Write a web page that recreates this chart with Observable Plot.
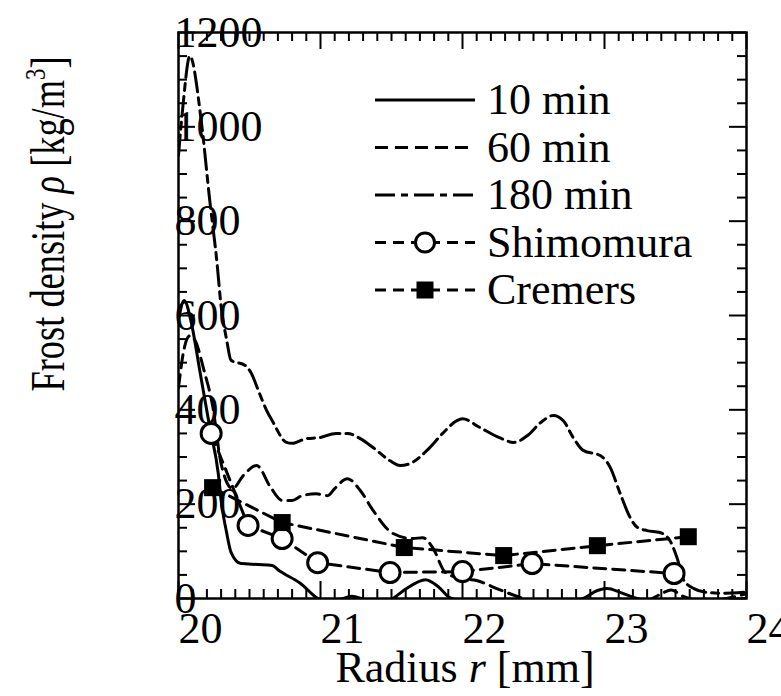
<!DOCTYPE html>
<html><head><meta charset="utf-8">
<script src="https://cdn.jsdelivr.net/npm/d3@7"></script>
<script src="https://cdn.jsdelivr.net/npm/@observablehq/plot@0.6"></script>
<style>
body{margin:0;background:#fff;}
#chart{position:relative;width:781px;height:696px;}
</style></head><body><div id="chart"></div>
<script>
// ---- data ----
const r10 = [20.0, 20.04, 20.09, 20.15, 20.22, 20.28, 20.30, 20.34, 20.37, 20.44, 20.56, 20.66, 20.71, 20.85, 21.02, 21.12, 21.22, 21.32, 21.45, 21.51, 21.6, 21.74, 21.83, 21.91, 22.1, 22.4, 22.7, 22.85, 22.95, 23.02, 23.11, 23.23, 23.4, 23.7, 24.0];
const rho10 = [590, 632, 585, 483, 363, 265, 208, 138, 98, 74, 72, 70, 59, 34, -4, -3, 5, -3, -8, 0, 20, 40, 25, 2, -10, -15, -8, 0, 17, 21, 13, 0, -12, -8, 0];

const r60 = [20.0, 20.04, 20.08, 20.12, 20.18, 20.24, 20.30, 20.38, 20.46, 20.55, 20.65, 20.73, 20.80, 20.87, 20.97, 21.05, 21.10, 21.19, 21.28, 21.37, 21.51, 21.65, 21.72, 21.79, 21.88, 22.0, 22.1, 22.25, 22.43, 22.7, 23.0, 23.3, 23.4, 23.47, 23.55, 23.7, 24.0];
const rho60 = [447, 530, 557, 545, 483, 409, 286, 233, 262, 282, 235, 208, 208, 218, 222, 218, 233, 254, 229, 187, 138, 127, 129, 108, 55, 42, 38, 20, 0, -15, -15, -5, 10, 18, 5, -5, 10];

const r180 = [20.0, 20.03, 20.08, 20.16, 20.22, 20.27, 20.30, 20.34, 20.37, 20.47, 20.51, 20.57, 20.62, 20.66, 20.76, 20.80, 20.90, 20.99, 21.11, 21.19, 21.28, 21.37, 21.49, 21.56, 21.63, 21.75, 21.86, 21.96, 22.00, 22.12, 22.26, 22.36, 22.46, 22.55, 22.64, 22.71, 22.78, 22.85, 22.97, 23.04, 23.11, 23.18, 23.23, 23.30, 23.39, 23.46, 23.51, 23.56, 23.63, 23.72, 23.84, 23.98];
const rho180 = [940, 1040, 1150, 1013, 844, 715, 620, 547, 505, 494, 479, 435, 399, 377, 331, 329, 339, 341, 350, 350, 339, 320, 292, 282, 286, 314, 350, 377, 381, 363, 341, 331, 346, 373, 388, 377, 341, 314, 303, 278, 223, 172, 151, 144, 140, 123, 87, 38, 21, 13, 11, 13];

const rShimomura = [20.23, 20.49, 20.73, 20.98, 21.49, 22.0, 22.49, 23.49];
const rhoShimomura = [350, 155, 127, 76, 55, 57, 74, 53];

const rCremers = [20.24, 20.73, 21.59, 22.29, 22.95, 23.59];
const rhoCremers = [235, 161, 108, 91, 112, 131];

const seriesNames = ["10 min", "60 min", "180 min", "Shimomura", "Cremers"];
const xTickLabels = [20, 21, 22, 23, 24];
const yTickLabels = [0, 200, 400, 600, 800, 1000, 1200];

// ---- layout ----
const W = 781, H = 696, ML = 178, MR = 35, MT = 32, MB = 98;
const X0 = 20, X1 = 24, Y0 = 0, Y1 = 1200;
const yPerPx = (Y1 - Y0) / (H - MT - MB);
const xPerPx = (X1 - X0) / (W - ML - MR);
const MINOR = 9, MAJOR = 17, TW = 2;
const K = "#000";
const FONT = "'Liberation Serif','Times New Roman',serif";

// ---- build ----
const toRows = (rs, vs) => rs.map((r, i) => ({r, v: vs[i]}));
const s10 = toRows(r10, rho10), s60 = toRows(r60, rho60), s180 = toRows(r180, rho180);
const sShi = toRows(rShimomura, rhoShimomura), sCre = toRows(rCremers, rhoCremers);

const xAll = d3.range(0, 41).map(i => +(20 + i / 10).toFixed(1));
const xMinor = xAll.filter(v => !xTickLabels.includes(v));
const yAll = d3.range(0, 25).map(i => i * 50);
const yMinor = yAll.filter(v => !yTickLabels.includes(v));

function tickMarks(values, len) {
  const dy = len * yPerPx, dx = len * xPerPx;
  return [
    Plot.ruleX(values.x, {x: d => d, y1: () => Y0, y2: () => Y0 + dy, stroke: K, strokeWidth: TW}),
    Plot.ruleX(values.x, {x: d => d, y1: () => Y1 - dy, y2: () => Y1, stroke: K, strokeWidth: TW}),
    Plot.ruleY(values.y, {y: d => d, x1: () => X0, x2: () => X0 + dx, stroke: K, strokeWidth: TW}),
    Plot.ruleY(values.y, {y: d => d, x1: () => X1 - dx, x2: () => X1, stroke: K, strokeWidth: TW})
  ];
}

const plot = Plot.plot({
  width: W, height: H,
  marginLeft: ML, marginRight: MR, marginTop: MT, marginBottom: MB,
  x: {domain: [X0, X1], axis: null},
  y: {domain: [Y0, Y1], axis: null},
  style: {fontFamily: FONT, fontSize: "44px", background: "white", overflow: "visible", color: "#000"},
  marks: [
    // curves
    Plot.line(s10, {x: "r", y: "v", stroke: K, strokeWidth: 3, curve: "monotone-x", clip: true}),
    Plot.line(s60, {x: "r", y: "v", stroke: K, strokeWidth: 3, strokeDasharray: "13,7", curve: "monotone-x", clip: true}),
    Plot.line(s180, {x: "r", y: "v", stroke: K, strokeWidth: 3, strokeDasharray: "20,6,7,6", curve: "monotone-x", clip: true}),
    Plot.line(sShi, {x: "r", y: "v", stroke: K, strokeWidth: 3, strokeDasharray: "12,7"}),
    Plot.line(sCre, {x: "r", y: "v", stroke: K, strokeWidth: 3, strokeDasharray: "12,7"}),
    Plot.dot(sShi, {x: "r", y: "v", r: 10, fill: "white", stroke: K, strokeWidth: 3}),
    Plot.dot(sCre, {x: "r", y: "v", r: 9.6, symbol: "square", fill: K, stroke: "none"}),
    // inward ticks on all four sides
    ...tickMarks({x: xMinor, y: yMinor}, MINOR),
    ...tickMarks({x: xTickLabels, y: yTickLabels}, MAJOR),
    Plot.frame({stroke: K, strokeWidth: 2.5}),
    // tick labels
    Plot.text(xTickLabels, {x: d => d, y: () => Y0, text: d => String(d), textAnchor: "start", lineAnchor: "top", dy: 13, fontSize: 44, fill: K}),
    Plot.text(yTickLabels, {x: () => X0, y: d => d, text: d => String(d), textAnchor: "start", dx: -4, fontSize: 44, fill: K})
  ]
});

document.getElementById("chart").appendChild(plot);

// ---- axis titles and legend added in the same SVG ----
const svg = d3.select(plot);

const xl = svg.append("text").attr("x", 465).attr("y", 682).attr("text-anchor", "middle")
  .attr("font-family", FONT).attr("font-size", 44).attr("fill", K);
xl.append("tspan").text("Radius ");
xl.append("tspan").attr("font-style", "italic").text("r");
xl.append("tspan").text(" [mm]");

const yl = svg.append("text").attr("transform", "translate(64,224) rotate(-90)").attr("text-anchor", "middle")
  .attr("font-family", FONT).attr("font-size", 48).attr("fill", K)
  .attr("textLength", 335).attr("lengthAdjust", "spacingAndGlyphs");
yl.append("tspan").text("Frost density ");
yl.append("tspan").attr("font-style", "italic").text("ρ");
yl.append("tspan").text(" [kg/m");
yl.append("tspan").attr("dy", -19).attr("font-size", 30).text("3");
yl.append("tspan").attr("dy", 19).text("]");

const legendStyles = [
  {dash: null, mark: null},
  {dash: "13,7", mark: null},
  {dash: "20,6,7,6", mark: null},
  {dash: "11,7", mark: "circle"},
  {dash: "11,7", mark: "square"}
];
const lg = svg.append("g");
seriesNames.forEach((name, i) => {
  const y = 100 + i * 47.5;
  const st = legendStyles[i];
  lg.append("line").attr("x1", 375).attr("x2", 475).attr("y1", y).attr("y2", y)
    .attr("stroke", K).attr("stroke-width", 3).attr("stroke-dasharray", st.dash);
  if (st.mark === "circle") {
    lg.append("circle").attr("cx", 425).attr("cy", y).attr("r", 9.5).attr("fill", "white").attr("stroke", K).attr("stroke-width", 3);
  } else if (st.mark === "square") {
    lg.append("rect").attr("x", 425 - 8.5).attr("y", y - 8.5).attr("width", 17).attr("height", 17).attr("fill", K);
  }
  lg.append("text").attr("x", 487).attr("y", y + 14).attr("text-anchor", "start")
    .attr("font-family", FONT).attr("font-size", 44).attr("fill", K).text(name);
});
</script>
</body></html>
